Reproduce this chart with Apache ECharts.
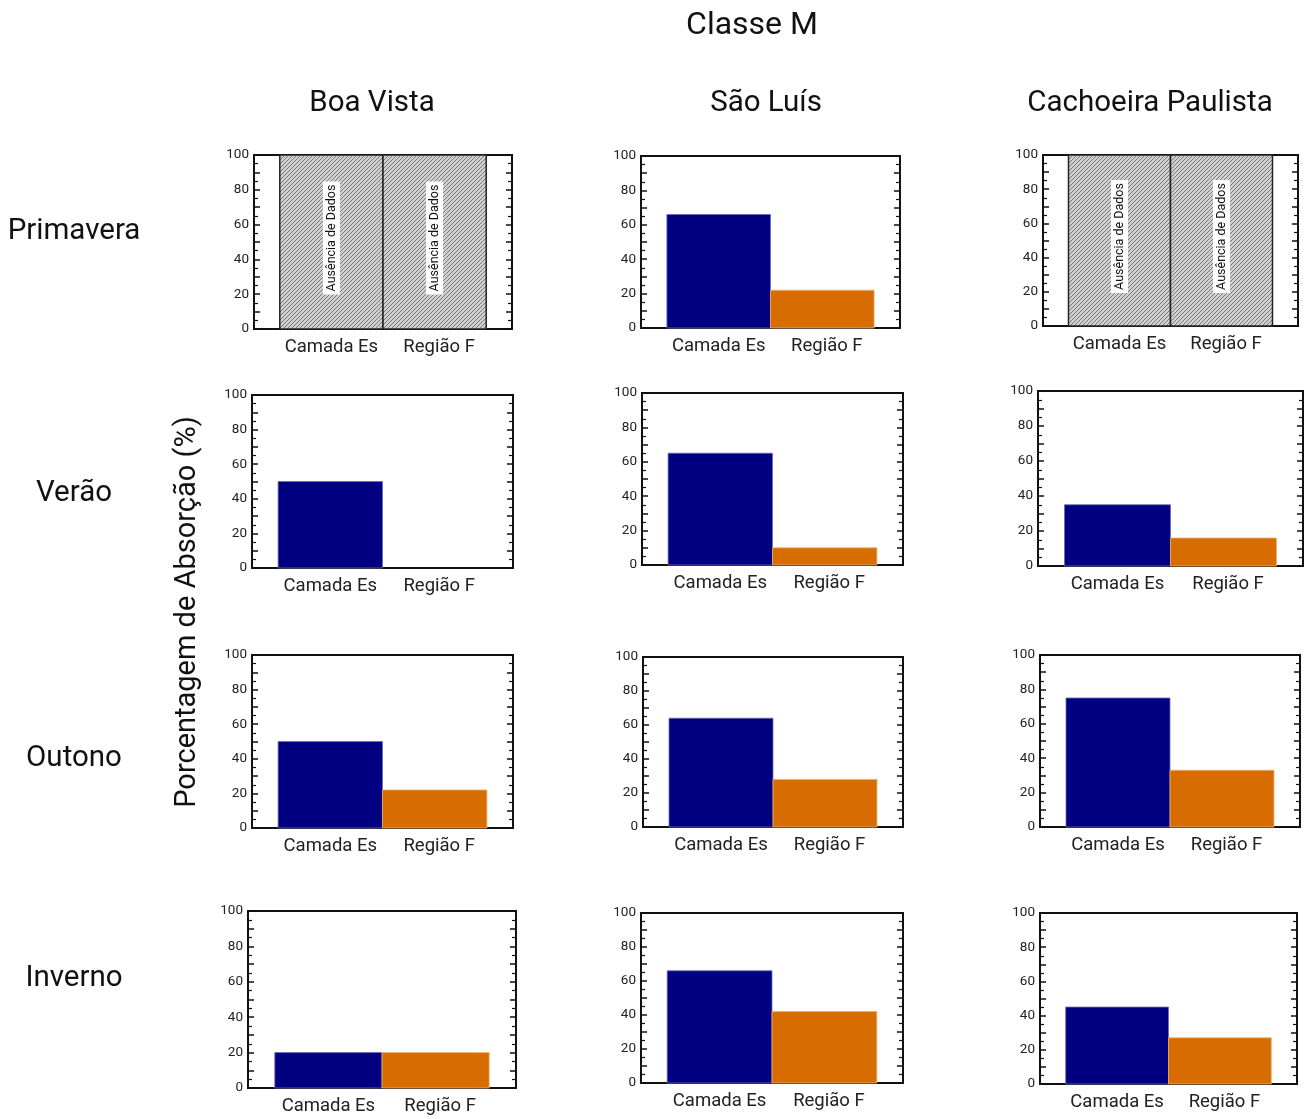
<!DOCTYPE html>
<html>
<head>
<meta charset="utf-8">
<script src="https://cdn.jsdelivr.net/npm/echarts@6/dist/echarts.min.js"></script>
<style>
  html, body { margin: 0; padding: 0; background: #fff; }
  #main { width: 1306px; height: 1119px; }
</style>
</head>
<body>
<div id="main"></div>
<script>
const seasons = ['Primavera', 'Verão', 'Outono', 'Inverno']
const stations = ['Boa Vista', 'São Luís', 'Cachoeira Paulista']
const layers = ['Camada Es', 'Região F']
// linhas = estações do ano, colunas = estações; null = ausência de dados
const camadaEs = [
    [null, 66, null],
    [50, 65, 35],
    [50, 64, 75],
    [20, 66, 45]
]
const regiaoF = [
    [null, 22, null],
    [0, 10, 16],
    [22, 28, 33],
    [20, 42, 27]
]
const yLabels = [0, 20, 40, 60, 80, 100]

// caixas dos painéis [esq, topo, dir, base]
const boxes = [
    [[254, 155, 512, 329], [641, 156, 900, 328], [1043, 155, 1298, 326]],
    [[252, 395, 513, 568], [642, 393, 903, 565], [1038, 391, 1303, 566]],
    [[252, 655, 513, 828], [643, 657, 903, 827], [1040, 655, 1300, 827]],
    [[248, 911, 516, 1088], [641, 913, 903, 1083], [1040, 913, 1297, 1084]]
]
const colX = [372, 766, 1150]
const rowY = [232, 494, 759, 979]
const FONT = 'Roboto, "Noto Sans", sans-serif'
const colors = ['#000080', '#d76d00']

const makeHatch = () => {
    const c = document.createElement('canvas')
    c.width = 4
    c.height = 4
    const g = c.getContext('2d')
    g.fillStyle = '#d0d0d0'
    g.fillRect(0, 0, 4, 4)
    g.strokeStyle = '#7a7a7a'
    g.lineWidth = 1
    g.beginPath()
    g.moveTo(0, 4); g.lineTo(4, 0)
    g.moveTo(-1, 1); g.lineTo(1, -1)
    g.moveTo(3, 5); g.lineTo(5, 3)
    g.stroke()
    return c
}
const hatch = makeHatch()

const renderItem = (params, api) => {
    const x0 = api.value(0)
    const x1 = api.value(1)
    const v = api.value(2)
    const kind = api.value(3)
    const p0 = api.coord([x0, v])
    const p1 = api.coord([x1, 0])
    const shape = { x: p0[0], y: p0[1], width: p1[0] - p0[0], height: p1[1] - p0[1] }
    if (kind === 2) {
        return {
            type: 'group',
            children: [
                {
                    type: 'rect', shape,
                    style: { fill: { image: hatch, repeat: 'repeat' }, stroke: '#222', lineWidth: 1.5 }
                },
                {
                    type: 'text',
                    x: (p0[0] + p1[0]) / 2,
                    y: (p0[1] + p1[1]) / 2 - 4,
                    rotation: Math.PI / 2,
                    style: {
                        text: 'Ausência de Dados',
                        font: '12.5px ' + FONT,
                        fill: '#111',
                        align: 'center', verticalAlign: 'middle',
                        textAlign: 'center', textVerticalAlign: 'middle',
                        backgroundColor: '#fff',
                        padding: [2, 3]
                    }
                }
            ]
        }
    }
    if (shape.height <= 0) return null
    return {
        type: 'rect', shape,
        style: { fill: colors[kind], stroke: kind === 0 ? '#6a6ab8' : '#f0b070', lineWidth: 0.8 }
    }
}

const grids = [], xAxes = [], yAxes = [], series = []
seasons.forEach((s, r) => {
    stations.forEach((st, c) => {
        const i = grids.length
        const [l, t, rr, b] = boxes[r][c]
        grids.push({
            left: l, top: t, width: rr - l, height: b - t,
            show: true, borderColor: '#111', borderWidth: 2
        })
        xAxes.push({
            gridIndex: i, type: 'value', min: -0.25, max: 2.25, interval: 0.25,
            axisLine: { show: false }, axisTick: { show: false }, splitLine: { show: false },
            axisLabel: {
                margin: 9, fontSize: 18.5, color: '#222', fontFamily: FONT,
                showMinLabel: true, showMaxLabel: true,
                rich: { f: { fontSize: 18.5, color: '#222', fontFamily: FONT, padding: [0, 0, 0, 9] } },
                formatter: v => Math.abs(v - 0.5) < 1e-6 ? layers[0] : (Math.abs(v - 1.5) < 1e-6 ? '{f|' + layers[1] + '}' : '')
            }
        })
        const yBase = {
            gridIndex: i, type: 'value', min: 0, max: 100, interval: 10,
            axisLine: { show: true, onZero: false, lineStyle: { color: '#111', width: 2 } },
            axisTick: { show: true, inside: true, length: 6, lineStyle: { color: '#111', width: 1.5 } },
            minorTick: { show: true, splitNumber: 2, length: 4, lineStyle: { color: '#111', width: 1.2 } },
            splitLine: { show: false }
        }
        yAxes.push(Object.assign({}, yBase, {
            position: 'left',
            axisLabel: {
                margin: 5, fontSize: 13.5, color: '#222', fontFamily: FONT,
                formatter: v => yLabels.indexOf(v) >= 0 ? String(v) : ''
            }
        }))
        yAxes.push(Object.assign({}, yBase, {
            position: 'right',
            axisLabel: { show: false }
        }))
        const es = camadaEs[r][c]
        const f = regiaoF[r][c]
        const data = [
            es === null ? [0, 1, 100, 2] : [0, 1, es, 0],
            f === null ? [1, 2, 100, 2] : [1, 2, f, 1]
        ]
        series.push({
            type: 'custom',
            xAxisIndex: i, yAxisIndex: i * 2,
            renderItem,
            encode: { x: [0, 1], y: 2 },
            data,
            silent: true
        })
    })
})

const graphic = [
    { type: 'text', x: 752, y: 26, style: { text: 'Classe M', font: '32px ' + FONT, fill: '#111', textAlign: 'center', textVerticalAlign: 'middle' } },
    {
        type: 'text', x: 188, y: 612, rotation: Math.PI / 2,
        style: { text: 'Porcentagem de Absorção (%)', font: '29px ' + FONT, fill: '#111', textAlign: 'center', textVerticalAlign: 'middle' }
    }
]
stations.forEach((st, c) => {
    graphic.push({ type: 'text', x: colX[c], y: 104, style: { text: st, font: '29.5px ' + FONT, fill: '#111', textAlign: 'center', textVerticalAlign: 'middle' } })
})
seasons.forEach((s, r) => {
    graphic.push({ type: 'text', x: 74, y: rowY[r], style: { text: s, font: '29.5px ' + FONT, fill: '#111', textAlign: 'center', textVerticalAlign: 'middle' } })
})

const chart = echarts.init(document.getElementById('main'), null, { renderer: 'canvas' })
chart.setOption({
    animation: false,
    backgroundColor: '#fff',
    grid: grids,
    xAxis: xAxes,
    yAxis: yAxes,
    series,
    graphic
})
</script>
</body>
</html>
